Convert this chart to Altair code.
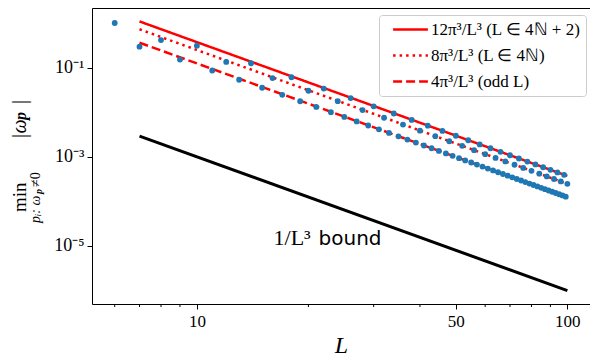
import altair as alt
import pandas as pd

# ---- data ----
L_odd = [7, 9, 11, 13, 15, 17, 19, 21, 23, 25, 27, 29, 31, 33, 35, 37, 39, 41, 43, 45, 47, 49,
         51, 53, 55, 57, 59, 61, 63, 65, 67, 69, 71, 73, 75, 77, 79, 81, 83, 85, 87, 89, 91, 93,
         95, 97, 99]
w_odd = [0.295, 0.1512, 0.08625, 0.05344, 0.03528, 0.02446, 0.01763, 0.01312, 0.01002, 0.007823,
         0.006223, 0.005031, 0.004124, 0.003423, 0.002871, 0.002432, 0.002078, 0.00179, 0.001552,
         0.001355, 0.00119, 0.00105, 0.0009317, 0.0008304, 0.0007432, 0.0006679, 0.0006023,
         0.0005451, 0.0004949, 0.0004507, 0.0004115, 0.0003768, 0.0003459, 0.0003183, 0.0002935,
         0.0002713, 0.0002512, 0.0002331, 0.0002166, 0.0002017, 0.0001881, 0.0001757, 0.0001644,
         0.000154, 0.0001445, 0.0001358, 0.0001277]
L_4n = [8, 12, 16, 20, 24, 28, 32, 36, 40, 44, 48, 52, 56, 60, 64, 68, 72, 76, 80, 84, 88, 92, 96, 100]
w_4n = [0.4142, 0.134, 0.05826, 0.03025, 0.01764, 0.01116, 0.007497, 0.005276, 0.003852, 0.002897,
        0.002233, 0.001758, 0.001408, 0.001145, 0.000944, 0.0007872, 0.0006633, 0.0005641,
        0.0004837, 0.0004179, 0.0003635, 0.0003182, 0.0002801, 0.0002478]
L_4n2 = [6, 10, 14, 18, 22, 26, 30, 34, 38, 42, 46, 50, 54, 58, 62, 66, 70, 74, 78, 82, 86, 90, 94, 98]
w_4n2 = [1.0, 0.31, 0.1252, 0.06085, 0.03386, 0.0207, 0.01355, 0.009344, 0.00671, 0.004979,
         0.003796, 0.002959, 0.002351, 0.001898, 0.001555, 0.00129, 0.001081, 0.0009157,
         0.0007821, 0.0006733, 0.0005838, 0.0005094, 0.0004472, 0.0003947]

line_L = [7, 100]
solid_w = [1.0848, 0.00037208]
dotted_w = [0.72318, 0.00024805]
dashed_w = [0.36159, 0.00012403]
bound_w = [0.0029155, 0.000001]

series_labels = ["12π³/L³ (L ∈ 4ℕ + 2)", "8π³/L³ (L ∈ 4ℕ)", "4π³/L³ (odd L)"]

x_ticks = [10, 50, 100]
x_minor = [6, 7, 8, 9, 20, 30, 40, 60, 70, 80, 90]
y_ticks = [0.1, 0.001, 0.00001]

ann_L = [16.1, 21.3]
ann_w = [1.05e-5, 1.05e-5]

# ---- tables ----
pts = pd.DataFrame({"L": L_odd + L_4n + L_4n2, "w": w_odd + w_4n + w_4n2})
lines = pd.DataFrame({
    "L": line_L * 3,
    "w": solid_w + dotted_w + dashed_w,
    "series": [series_labels[0]] * 2 + [series_labels[1]] * 2 + [series_labels[2]] * 2,
})
bound = pd.DataFrame({"L": line_L, "w": bound_w})
minor = pd.DataFrame({"L": x_minor})

SERIF = "Liberation Serif"
W, H = 498, 296

xscale = alt.Scale(type="log", domain=[5.21, 115.1], nice=False)
yscale = alt.Scale(type="log", domain=[5.0e-7, 2.17], nice=False)

xaxis = alt.Axis(values=x_ticks, labelExpr="format(datum.value, 'd')", title="L",
                 titleFont=SERIF, titleFontStyle="italic", titleFontSize=24,
                 titleFontWeight="normal", titleColor="black", titlePadding=4,
                 labelFont=SERIF, labelFontSize=17, labelPadding=4)
yaxis = alt.Axis(values=y_ticks, title=None,
                 labelExpr="datum.value > 0.05 ? '10⁻¹' : (datum.value > 0.0005 ? '10⁻³' : '10⁻⁵')",
                 labelFont=SERIF, labelFontSize=18, labelPadding=3)

base_x = alt.X("L:Q", scale=xscale, axis=xaxis)
base_y = alt.Y("w:Q", scale=yscale, axis=yaxis)

minor_ticks = alt.Chart(minor).mark_rule(color="black", strokeWidth=1).encode(
    x=alt.X("L:Q", scale=xscale, axis=xaxis),
    y=alt.value(H), y2=alt.value(H + 3),
)

red_lines = alt.Chart(lines).mark_line(color="red", strokeWidth=2.5).encode(
    x=base_x, y=base_y,
    strokeDash=alt.StrokeDash(
        "series:N",
        scale=alt.Scale(domain=series_labels, range=[[1, 0], [2.5, 4], [9, 4]]),
        legend=alt.Legend(title=None, orient="none", legendX=287, legendY=7,
                          direction="vertical", symbolType="M-2.9,0H2.9", symbolSize=144,
                          symbolStrokeWidth=2.5, symbolStrokeColor="red", symbolOffset=17,
                          labelFont=SERIF, labelFontSize=17, labelColor="black",
                          labelOffset=12, padding=6, rowPadding=8,
                          strokeColor="#cccccc", fillColor="white", cornerRadius=3),
    ),
    order="L:Q",
)

bound_line = alt.Chart(bound).mark_line(color="black", strokeWidth=3).encode(x=base_x, y=base_y)

points = alt.Chart(pts).mark_circle(size=34, color="#1f77b4", opacity=1).encode(x=base_x, y=base_y)

ann = pd.DataFrame({"L": ann_L, "w": ann_w, "t": ["1/L³", "bound"]})
ann1 = alt.Chart(ann.iloc[[0]]).mark_text(align="left", baseline="alphabetic", font=SERIF,
                                           fontSize=22, color="black").encode(
    x=base_x, y=base_y, text="t:N")
ann2 = alt.Chart(ann.iloc[[1]]).mark_text(align="left", baseline="alphabetic", font="DejaVu Sans",
                                           fontSize=20, color="black").encode(
    x=base_x, y=base_y, text="t:N")

# y-axis title pieces (rotated text)
def ytxt(txt, xpx, ypx, size, style="normal", weight="normal"):
    return alt.Chart(pd.DataFrame({"t": [txt]})).mark_text(
        angle=270, align="left", baseline="alphabetic", font=SERIF, fontSize=size,
        fontStyle=style, fontWeight=weight, color="black").encode(
        x=alt.value(xpx), y=alt.value(ypx), text="t:N")

ytitle = [
    ytxt("min", -66, 204, 19),
    ytxt("|ω", -66, 131, 20, "italic"),
    ytxt("p", -66, 112, 16, "italic", "bold"),
    ytxt("|", -66, 96, 20),
    ytxt("pᵢ: ω", -52, 215, 14, "italic"),
    ytxt("p", -50, 186, 10, "italic", "bold"),
    ytxt("≠0", -52, 179, 14),
]

chart = alt.layer(minor_ticks, red_lines, bound_line, points, ann1, ann2, *ytitle).properties(
    width=W, height=H,
    padding={"left": 84, "top": 0, "right": 0, "bottom": 54},
    autosize=alt.AutoSizeParams(type="none"),
).configure_view(stroke="black", strokeWidth=1).configure_axis(
    domain=False, grid=False, tickColor="black", tickSize=5, tickWidth=1, labelColor="black"
)

chart.save("out.html", embed_options={"renderer": "svg", "actions": False})
